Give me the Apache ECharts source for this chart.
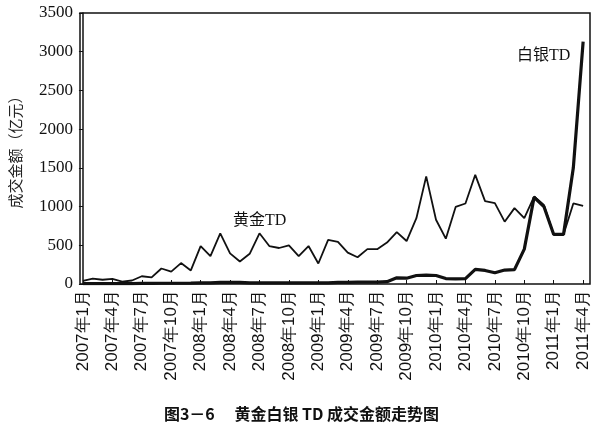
<!DOCTYPE html>
<html>
<head>
<meta charset="utf-8">
<script src="https://cdn.jsdelivr.net/npm/echarts@6/dist/echarts.min.js"></script>
<style>
  html, body { margin: 0; padding: 0; background: #fff; }
  #chart { width: 603px; height: 429px; }
</style>
</head>
<body>
<div id="chart"></div>
<script>
// months 2007-01 .. 2011-04
const months = [
  '2007年1月','2007年2月','2007年3月','2007年4月','2007年5月','2007年6月','2007年7月','2007年8月','2007年9月','2007年10月','2007年11月','2007年12月',
  '2008年1月','2008年2月','2008年3月','2008年4月','2008年5月','2008年6月','2008年7月','2008年8月','2008年9月','2008年10月','2008年11月','2008年12月',
  '2009年1月','2009年2月','2009年3月','2009年4月','2009年5月','2009年6月','2009年7月','2009年8月','2009年9月','2009年10月','2009年11月','2009年12月',
  '2010年1月','2010年2月','2010年3月','2010年4月','2010年5月','2010年6月','2010年7月','2010年8月','2010年9月','2010年10月','2010年11月','2010年12月',
  '2011年1月','2011年2月','2011年3月','2011年4月'
];
// labelled months (every quarter)
const tickIdx = [0, 3, 6, 9, 12, 15, 18, 21, 24, 27, 30, 33, 36, 39, 42, 45, 48, 51];

// 成交金额, 亿元
const gold = [
  40, 70, 55, 65, 30, 45, 100, 85, 200, 160, 270, 175,
  490, 360, 655, 395, 290, 390, 655, 490, 465, 500, 360, 490,
  265, 570, 545, 405, 345, 450, 450, 535, 670, 555, 850, 1390,
  830, 585, 995, 1040, 1410, 1070, 1045, 805, 980, 850, 1130, 1020,
  640, 640, 1040, 1010
];
const silver = [
  5, 5, 5, 5, 5, 5, 8, 8, 10, 10, 10, 12,
  15, 15, 20, 20, 20, 15, 15, 15, 15, 15, 15, 15,
  15, 15, 20, 20, 25, 25, 25, 30, 80, 75, 110, 115,
  110, 70, 65, 70, 190, 175, 145, 180, 185, 450, 1120, 1000,
  640, 640, 1500, 3130
];

const ink = '#111';
const serif = '"Liberation Serif", "DejaVu Serif", serif';

var myChart = echarts.init(document.getElementById('chart'));
myChart.setOption({
  animation: false,
  title: {
    text: '图3－6　 黄金白银 TD 成交金额走势图',
    left: 'center',
    top: 401,
    textStyle: { fontFamily: 'Noto Sans CJK SC', fontSize: 16, fontWeight: 'bold', color: ink }
  },
  grid: {
    left: 80, right: 13, top: 13, bottom: 145,
    show: true, borderColor: ink, borderWidth: 1.5
  },
  xAxis: {
    type: 'value',
    min: -0.3,
    max: 51.7,
    splitLine: { show: false },
    axisLine: { show: false },
    axisTick: { inside: true, length: 4, customValues: tickIdx, lineStyle: { color: ink } },
    axisLabel: {
      customValues: tickIdx,
      rotate: 90,
      margin: 6,
      formatter: v => months[Math.round(v)],
      fontFamily: 'Liberation Sans',
      fontSize: 17,
      color: ink
    }
  },
  yAxis: {
    type: 'value',
    min: 0,
    max: 3500,
    interval: 500,
    name: '成交金额（亿元）',
    nameLocation: 'middle',
    nameGap: 57,
    nameTextStyle: { fontFamily: 'Noto Sans CJK SC', fontSize: 15, color: '#222' },
    splitLine: { show: false },
    axisLine: { show: true, lineStyle: { color: ink, width: 1.5 } },
    axisTick: { show: true, length: 4, lineStyle: { color: ink } },
    axisLabel: { formatter: v => String(v), fontFamily: serif, fontSize: 17, color: ink, margin: 7 }
  },
  series: [
    {
      name: '黄金TD',
      type: 'line',
      data: gold.map((v, i) => [i, v]),
      showSymbol: false,
      lineStyle: { color: ink, width: 1.8 },
      z: 3
    },
    {
      name: '白银TD',
      type: 'line',
      data: silver.map((v, i) => [i, v]),
      showSymbol: false,
      lineStyle: { color: ink, width: 3.2 },
      z: 2
    }
  ],
  graphic: [
    {
      type: 'text', left: 233, top: 213,
      style: { text: '黄金TD', fontFamily: serif + ', "Noto Sans CJK SC"', fontSize: 16, fill: ink }
    },
    {
      type: 'text', left: 517, top: 48,
      style: { text: '白银TD', fontFamily: serif + ', "Noto Sans CJK SC"', fontSize: 16, fill: ink }
    }
  ]
});
</script>
</body>
</html>
